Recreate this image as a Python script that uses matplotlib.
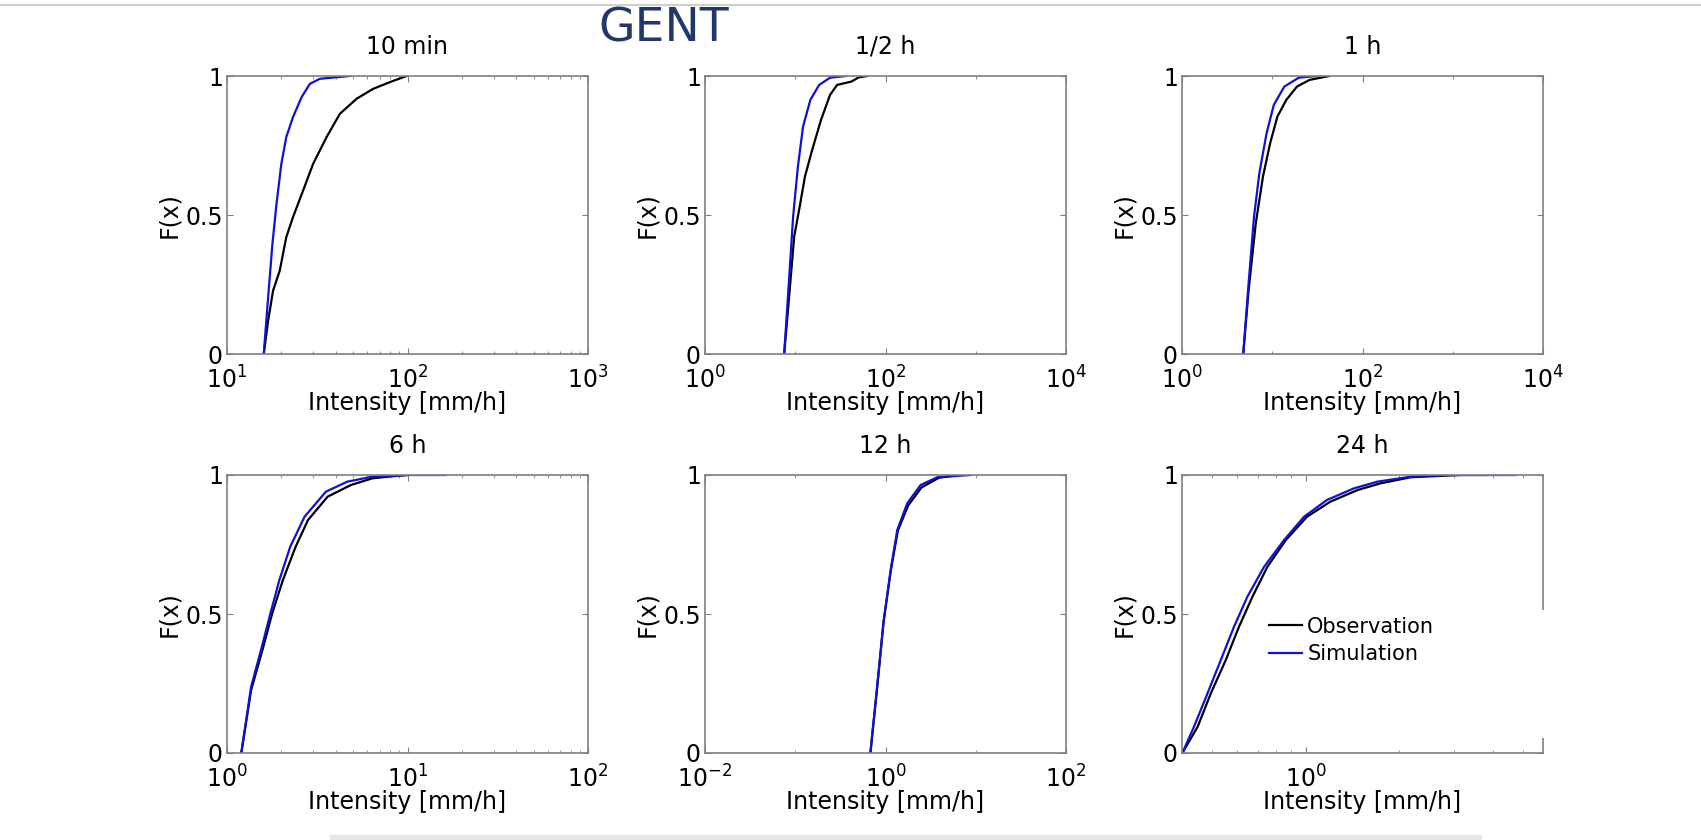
import matplotlib
matplotlib.use('Agg')
import matplotlib.pyplot as plt
from matplotlib.lines import Line2D
from matplotlib.patches import Rectangle
from matplotlib.ticker import FixedLocator, LogLocator, NullFormatter, LogFormatterSciNotation

plt.rcParams['font.family'] = ['DejaVu Sans']
plt.rcParams['mathtext.default'] = 'regular'

# panel titles and x-ranges
titles = ['10 min', '1/2 h', '1 h', '6 h', '12 h', '24 h']
xlims = [(10, 1000), (1, 1e4), (1, 1e4), (1, 100), (0.01, 100), (0.40, 5.8)]
major_ticks = [[10, 100, 1000], [1, 100, 1e4], [1, 100, 1e4], [1, 10, 100], [0.01, 1, 100], [1]]

# 10 min
obs_x_10min = [15.98, 16.9, 18.0, 19.6, 21.3, 23.2, 26.4, 30.0, 35.6, 42.2, 52.2, 64.6, 79.9, 98.9]
obs_F_10min = [0, 0.12, 0.228, 0.30, 0.42, 0.492, 0.588, 0.684, 0.780, 0.864, 0.918, 0.954, 0.978, 1.0]
sim_x_10min = [15.98, 16.9, 17.85, 18.8, 20.0, 21.3, 23.2, 25.9, 28.8, 32.7, 48.0]
sim_F_10min = [0, 0.204, 0.396, 0.540, 0.684, 0.780, 0.852, 0.924, 0.972, 0.990, 1.0]

# 1/2 h
obs_x_30min = [7.54, 8.49, 9.73, 11.2, 12.8, 15.4, 19.3, 24.3, 29.1, 42.0, 50.4, 63.0]
obs_F_30min = [0, 0.194, 0.422, 0.53, 0.638, 0.734, 0.842, 0.932, 0.968, 0.98, 0.995, 1.0]
sim_x_30min = [7.54, 8.49, 9.47, 10.7, 12.2, 14.7, 18.4, 24.3, 36.6]
sim_F_30min = [0, 0.254, 0.494, 0.674, 0.818, 0.914, 0.968, 0.994, 1.0]

# 1 h
obs_x_1h = [4.77, 5.47, 6.57, 7.89, 9.47, 11.4, 14.3, 18.8, 25.9, 42.8]
obs_F_1h = [0, 0.23, 0.47, 0.638, 0.758, 0.854, 0.914, 0.962, 0.986, 1.0]
sim_x_1h = [4.77, 5.47, 6.28, 7.19, 8.65, 10.4, 13.6, 19.7, 31.0]
sim_F_1h = [0, 0.254, 0.494, 0.65, 0.794, 0.896, 0.962, 0.994, 1.0]

# 6 h
obs_x_6h = [1.2, 1.36, 1.59, 1.78, 2.04, 2.40, 2.81, 3.61, 4.86, 6.38, 8.4, 10.1]
obs_F_6h = [0, 0.226, 0.382, 0.502, 0.622, 0.742, 0.838, 0.922, 0.964, 0.988, 0.996, 1.0]
sim_x_6h = [1.2, 1.36, 1.56, 1.74, 1.95, 2.24, 2.69, 3.53, 4.64, 6.38, 10.1, 16.3]
sim_F_6h = [0, 0.238, 0.382, 0.502, 0.622, 0.742, 0.85, 0.94, 0.976, 0.994, 1.0, 1.0]

# 12 h
obs_x_12h = [0.68, 0.80, 0.95, 1.15, 1.37, 1.78, 2.5, 3.9, 6.5]
obs_F_12h = [0, 0.22, 0.47, 0.66, 0.80, 0.89, 0.955, 0.99, 1.0]
sim_x_12h = [0.68, 0.807, 0.957, 1.14, 1.35, 1.74, 2.45, 3.75, 8.8]
sim_F_12h = [0, 0.238, 0.478, 0.658, 0.802, 0.898, 0.964, 0.992, 1.0]

# 24 h
obs_x_24h = [0.401, 0.449, 0.495, 0.553, 0.610, 0.674, 0.753, 0.863, 1.01, 1.20, 1.47, 1.74, 2.18, 3.15, 3.8]
obs_F_24h = [0, 0.094, 0.214, 0.334, 0.454, 0.562, 0.670, 0.766, 0.85, 0.904, 0.946, 0.970, 0.992, 1.0, 1.0]
sim_x_24h = [0.401, 0.437, 0.483, 0.533, 0.588, 0.649, 0.735, 0.852, 0.988, 1.17, 1.43, 1.70, 2.18, 2.79, 4.73]
sim_F_24h = [0, 0.094, 0.214, 0.334, 0.454, 0.562, 0.670, 0.766, 0.85, 0.91, 0.952, 0.976, 0.994, 1.0, 1.0]

obs_x = [obs_x_10min, obs_x_30min, obs_x_1h, obs_x_6h, obs_x_12h, obs_x_24h]
obs_F = [obs_F_10min, obs_F_30min, obs_F_1h, obs_F_6h, obs_F_12h, obs_F_24h]
sim_x = [sim_x_10min, sim_x_30min, sim_x_1h, sim_x_6h, sim_x_12h, sim_x_24h]
sim_F = [sim_F_10min, sim_F_30min, sim_F_1h, sim_F_6h, sim_F_12h, sim_F_24h]

W, H = 1701, 840
fig = plt.figure(figsize=(W / 100, H / 100), dpi=100)

col_left = [227, 705, 1182]
row_top = [76, 475]
ax_w, ax_h = 361, 278
grey = '#7f7f7f'

for i in range(6):
    r, c = divmod(i, 3)
    ax = fig.add_axes([col_left[c] / W, 1 - (row_top[r] + ax_h) / H, ax_w / W, ax_h / H])
    ax.plot(obs_x[i], obs_F[i], color='black', lw=1.6, label='Observation')
    ax.plot(sim_x[i], sim_F[i], color='#1010d8', lw=1.6, label='Simulation')
    ax.set_xscale('log')
    ax.set_xlim(*xlims[i])
    ax.set_ylim(0, 1)
    ax.xaxis.set_major_locator(FixedLocator(major_ticks[i]))
    ax.xaxis.set_major_formatter(LogFormatterSciNotation())
    if i in (1, 2):
        ax.xaxis.set_minor_locator(FixedLocator([10, 1000]))
    elif i == 4:
        ax.xaxis.set_minor_locator(FixedLocator([0.1, 10]))
    else:
        ax.xaxis.set_minor_locator(LogLocator(base=10, subs=range(2, 10)))
    ax.xaxis.set_minor_formatter(NullFormatter())
    ax.set_yticks([0, 0.5, 1])
    ax.set_yticklabels(['0', '0.5', '1'])
    for s in ax.spines.values():
        s.set_color(grey)
        s.set_linewidth(1.2)
    ax.tick_params(which='both', direction='in', top=True, right=True, color=grey,
                   labelsize=17, labelcolor='black')
    ax.tick_params(which='major', length=4)
    ax.tick_params(which='minor', length=2.5)
    ax.tick_params(axis='x', pad=9)
    ax.tick_params(axis='y', pad=3)
    ax.set_title(titles[i], fontsize=17, pad=16)
    ax.set_xlabel('Intensity [mm/h]', fontsize=17, labelpad=-2)
    ax.set_ylabel('F(x)', fontsize=17, labelpad=3)
    if i == 5:
        ax.legend(loc='upper left', bbox_to_anchor=(0.24, 0.49), frameon=False,
                  fontsize=15, handlelength=1.6, handletextpad=0.25,
                  labelspacing=0.35, borderpad=0, borderaxespad=0)

# slide decorations
fig.add_artist(Line2D([0, 1], [1 - 5 / H, 1 - 5 / H], color='#cfcfcf', lw=1.5,
                      transform=fig.transFigure))
fig.add_artist(Rectangle((330 / W, 0), (1481 - 330) / W, 5 / H, color='#e6e6e6',
                         transform=fig.transFigure))
fig.add_artist(Rectangle((1536 / W, 1 - 738 / H), (W - 1536) / W, 128 / H,
                         facecolor='white', edgecolor='none', zorder=5,
                         transform=fig.transFigure))
fig.text(598 / W, 1 - 42 / H, 'GENT', fontsize=34, color='#22386a',
         va='baseline', ha='left')

fig.savefig('out.png', dpi=100)
